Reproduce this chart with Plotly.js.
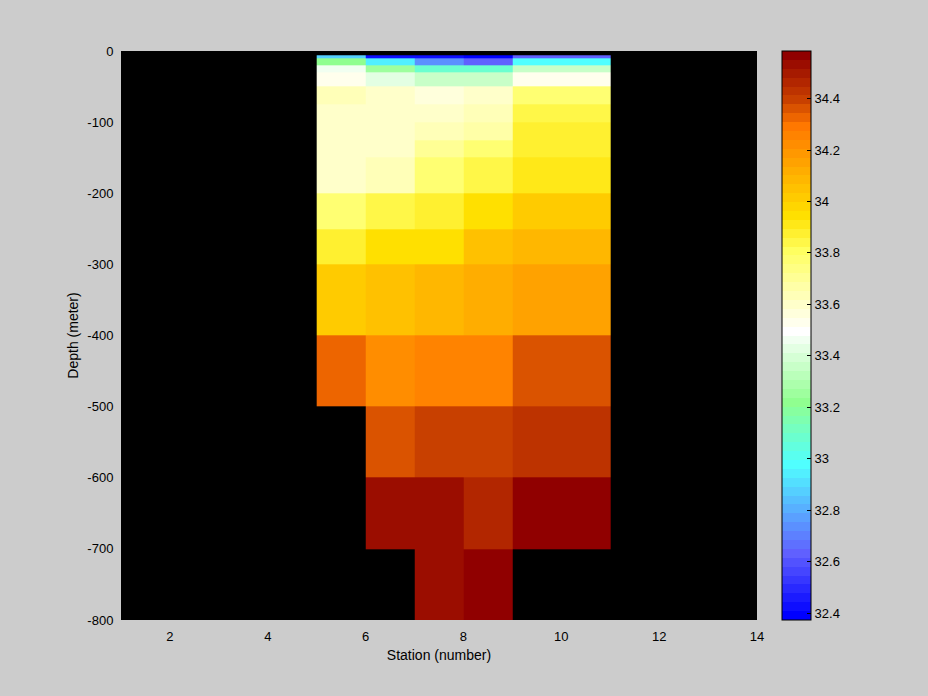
<!DOCTYPE html>
<html>
<head>
<meta charset="utf-8">
<script src="https://cdn.plot.ly/plotly-3.0.1.min.js"></script>
<style>html,body{margin:0;padding:0;background:#cccccc;}#chart{width:928px;height:696px;}</style>
</head>
<body>
<div id="chart"></div>
<script>
// Station cell edges (pcolor grid; station 10 missing)
var stationEdges = [5, 6, 7, 8, 9, 11];
// Depth cell edges (meters, negative downwards)
var depthEdges = [-6, -10, -20, -30, -50, -75, -100, -125, -150, -200, -250, -300, -400, -500, -600, -700, -800];

// Salinity by station, one value per depth cell (top to bottom)
var salSt5 = [32.87, 33.22, 33.47, 33.53, 33.63, 33.60, 33.60, 33.60, 33.61, 33.77, 33.88, 34.02, 34.33, null, null, null];
var salSt6 = [32.42, 32.94, 33.25, 33.43, 33.60, 33.60, 33.60, 33.61, 33.64, 33.84, 33.93, 34.05, 34.22, 34.36, 34.52, null];
var salSt7 = [32.41, 32.74, 33.09, 33.35, 33.55, 33.61, 33.64, 33.70, 33.77, 33.88, 33.96, 34.08, 34.26, 34.40, 34.52, 34.52];
var salSt8 = [32.38, 32.64, 33.09, 33.35, 33.60, 33.63, 33.67, 33.77, 33.84, 33.93, 34.05, 34.12, 34.26, 34.40, 34.46, 34.57];
var salSt9 = [32.63, 32.98, 33.35, 33.53, 33.77, 33.84, 33.88, 33.88, 33.91, 34.02, 34.08, 34.15, 34.37, 34.43, 34.57, null];

var colorMin = 32.373, colorMax = 34.585;

// Axis ticks
var xTickVals = [2, 4, 6, 8, 10, 12, 14];
var yTickVals = [0, -100, -200, -300, -400, -500, -600, -700, -800];
var yTickText = ["0", "-100", "-200", "-300", "-400", "-500", "-600", "-700", "-800"];
var cbTickVals = [32.4, 32.6, 32.8, 33.0, 33.2, 33.4, 33.6, 33.8, 34.0, 34.2, 34.4];
var cbTickText = ["32.4", "32.6", "32.8", "33", "33.2", "33.4", "33.6", "33.8", "34", "34.2", "34.4"];

// Build z matrix (rows = depth cells, columns = station cells)
var columns = [salSt5, salSt6, salSt7, salSt8, salSt9];
var z = [];
for (var i = 0; i < depthEdges.length - 1; i++) {
  var row = [];
  for (var j = 0; j < columns.length; j++) row.push(columns[j][i]);
  z.push(row);
}

// 64-level stepped colormap (blue - cyan - green - white - yellow - orange - dark red)
var anchors = [
  [0, [0, 0, 255]], [7, [96, 96, 255]], [17, [80, 255, 255]], [24, [144, 255, 144]],
  [32, [255, 255, 255]], [41, [255, 255, 96]], [45, [255, 224, 0]], [52, [255, 152, 0]],
  [55, [255, 120, 0]], [58, [200, 64, 0]], [63, [144, 0, 0]]
];
function bandColor(b) {
  for (var k = 0; k < anchors.length - 1; k++) {
    var a = anchors[k], c = anchors[k + 1];
    if (b >= a[0] && b <= c[0]) {
      var t = (b - a[0]) / (c[0] - a[0]);
      var rgb = [0, 1, 2].map(function (m) { return Math.round(a[1][m] + t * (c[1][m] - a[1][m])); });
      return 'rgb(' + rgb.join(',') + ')';
    }
  }
  return 'rgb(144,0,0)';
}
var N = 64, colorscale = [];
for (var b = 0; b < N; b++) {
  var col = bandColor(b);
  colorscale.push([b / N, col]);
  colorscale.push([(b + 1) / N, col]);
}

var font = {family: '"Liberation Sans", Arial, Helvetica, sans-serif', size: 13, color: '#000'};
var titleFont = {family: '"Liberation Sans", Arial, Helvetica, sans-serif', size: 14, color: '#000'};
var cbX = (782 - 121) / 729;

var data = [
  {
    type: 'heatmap',
    x: stationEdges,
    y: depthEdges,
    z: z,
    zmin: colorMin,
    zmax: colorMax,
    colorscale: colorscale,
    zsmooth: false,
    hoverongaps: false,
    colorbar: {
      x: cbX, xanchor: 'left', xpad: 0,
      y: 0.5, yanchor: 'middle', ypad: 0,
      len: 1, lenmode: 'fraction',
      thickness: 29, thicknessmode: 'pixels',
      outlinewidth: 1, outlinecolor: '#000',
      ticks: 'inside', ticklen: 4, tickcolor: '#000', tickwidth: 1,
      tickvals: cbTickVals, ticktext: cbTickText,
      ticklabelstandoff: 2,
      tickfont: font
    }
  },
  {type: 'scatter', x: [], y: [], yaxis: 'y2', showlegend: false, hoverinfo: 'skip'}
];

var layout = {
  width: 928, height: 696,
  margin: {l: 121, r: 78, t: 51, b: 76, autoexpand: false},
  paper_bgcolor: '#cccccc',
  plot_bgcolor: '#000000',
  font: font,
  showlegend: false,
  xaxis: {
    domain: [0, 636 / 729],
    range: [1, 14], tickvals: xTickVals,
    showgrid: false, zeroline: false,
    ticks: 'outside', ticklen: 4, tickcolor: 'rgba(0,0,0,0)',
    showline: false, tickfont: font,
    title: {text: 'Station (number)', font: titleFont, standoff: 7}
  },
  yaxis: {
    range: [-800, 0], tickvals: yTickVals, ticktext: yTickText,
    showgrid: false, zeroline: false,
    ticks: 'outside', ticklen: 4, tickcolor: 'rgba(0,0,0,0)',
    showline: false, tickfont: font,
    title: {text: 'Depth (meter)', font: titleFont, standoff: 5}
  },
  yaxis2: {
    overlaying: 'y', anchor: 'free', position: cbX, side: 'left',
    range: [colorMin, colorMax], tickvals: cbTickVals,
    ticks: 'inside', ticklen: 4, tickcolor: '#000', tickwidth: 1,
    showticklabels: false, showgrid: false, zeroline: false, showline: false, fixedrange: true
  }
};

Plotly.newPlot('chart', data, layout, {displayModeBar: false, staticPlot: true});
</script>
</body>
</html>
